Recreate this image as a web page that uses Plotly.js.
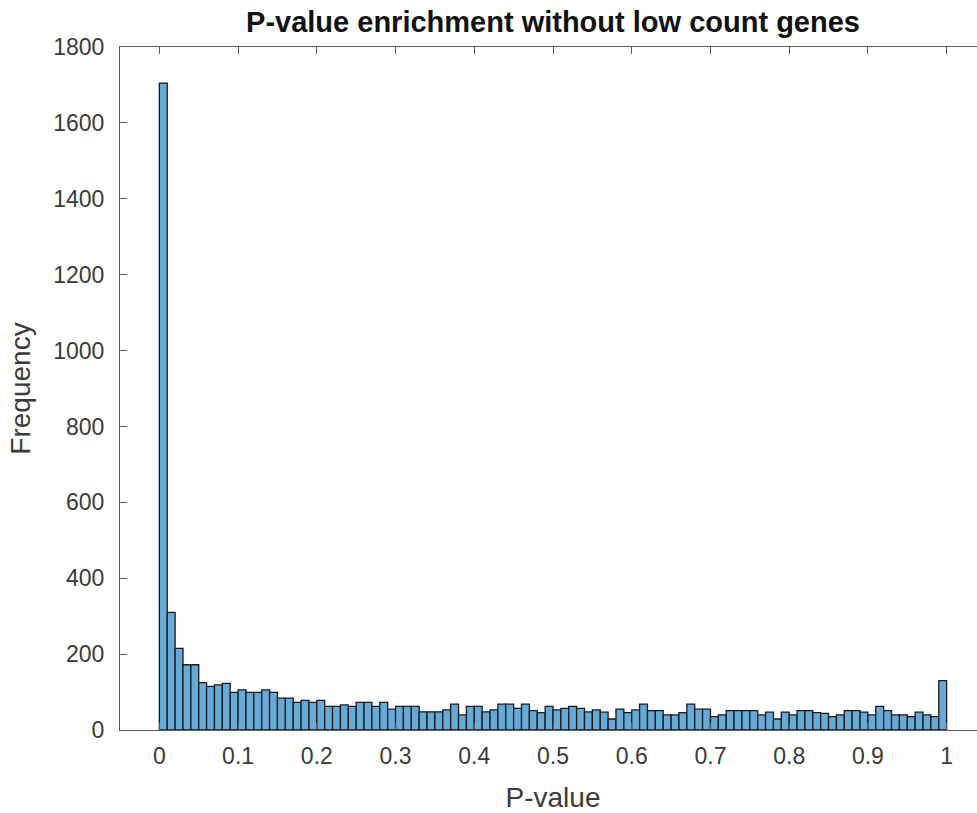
<!DOCTYPE html>
<html>
<head>
<meta charset="utf-8">
<script src="https://cdn.plot.ly/plotly-3.0.1.min.js"></script>
<style>
html, body { margin: 0; padding: 0; overflow: hidden; background: #fff; }
#chart { width: 986px; height: 813px; }
</style>
</head>
<body>
<div id="chart"></div>
<script>
// Histogram of p-values: 100 bins of width 0.01 on [0, 1]
const binStart = 0;
const binWidth = 0.01;
const counts = [
  1705, 310, 215, 172, 172, 125, 115, 119, 123, 99,
  106, 99, 99, 106, 99, 84, 84, 73, 78, 73,
  78, 62, 62, 66, 62, 73, 73, 62, 73, 55,
  62, 62, 62, 48, 48, 48, 53, 68, 40, 62,
  62, 48, 53, 68, 68, 57, 68, 51, 46, 62,
  53, 57, 62, 57, 48, 53, 47, 29, 55, 46,
  53, 68, 51, 51, 40, 40, 46, 68, 55, 55,
  35, 40, 51, 51, 51, 51, 40, 47, 29, 47,
  40, 51, 51, 46, 44, 35, 40, 51, 51, 47,
  40, 62, 51, 40, 40, 35, 47, 40, 35, 130
];
const xTickVals = [0, 0.1, 0.2, 0.3, 0.4, 0.5, 0.6, 0.7, 0.8, 0.9, 1];
const xTickText = ['0', '0.1', '0.2', '0.3', '0.4', '0.5', '0.6', '0.7', '0.8', '0.9', '1'];
const yTickVals = [0, 200, 400, 600, 800, 1000, 1200, 1400, 1600, 1800];

const centers = counts.map((_, i) => binStart + binWidth * (i + 0.5));

const trace = {
  type: 'bar',
  x: centers,
  y: counts,
  width: binWidth,
  marker: {
    color: '#66AAD7',
    line: { color: '#1a1a1a', width: 1.3 }
  },
  hoverinfo: 'x+y'
};

const FONT = 'Liberation Sans, Arial, sans-serif';
const textColor = '#3a3a3a';
const axisCommon = {
  showline: true,
  linecolor: '#5a5a5a',
  linewidth: 1,
  mirror: 'ticks',
  ticks: 'inside',
  ticklen: 7,
  tickwidth: 1,
  tickcolor: '#5a5a5a',
  showgrid: false,
  zeroline: false,
  tickfont: { family: FONT, size: 23, color: textColor }
};

const layout = {
  width: 986,
  height: 813,
  margin: { l: 120, r: 0, t: 47, b: 83, pad: 0 },
  paper_bgcolor: '#ffffff',
  plot_bgcolor: '#ffffff',
  showlegend: false,
  bargap: 0,
  title: {
    text: '<b>P-value enrichment without low count genes</b>',
    font: { family: FONT, size: 29, color: '#111111' },
    x: 0.5, xref: 'paper', xanchor: 'center',
    y: 0.973, yref: 'container', yanchor: 'middle'
  },
  xaxis: Object.assign({}, axisCommon, {
    range: [-0.05, 1.05],
    tickmode: 'array',
    tickvals: xTickVals,
    ticktext: xTickText,
    ticklabelstandoff: 5,
    title: { text: 'P-value', font: { family: FONT, size: 28, color: textColor }, standoff: 20 }
  }),
  yaxis: Object.assign({}, axisCommon, {
    range: [0, 1800],
    tickmode: 'array',
    tickvals: yTickVals,
    ticklabelstandoff: 10,
    title: { text: 'Frequency', font: { family: FONT, size: 28, color: textColor }, standoff: 14 }
  })
};

Plotly.newPlot('chart', [trace], layout, { displayModeBar: false, staticPlot: true });
</script>
</body>
</html>
